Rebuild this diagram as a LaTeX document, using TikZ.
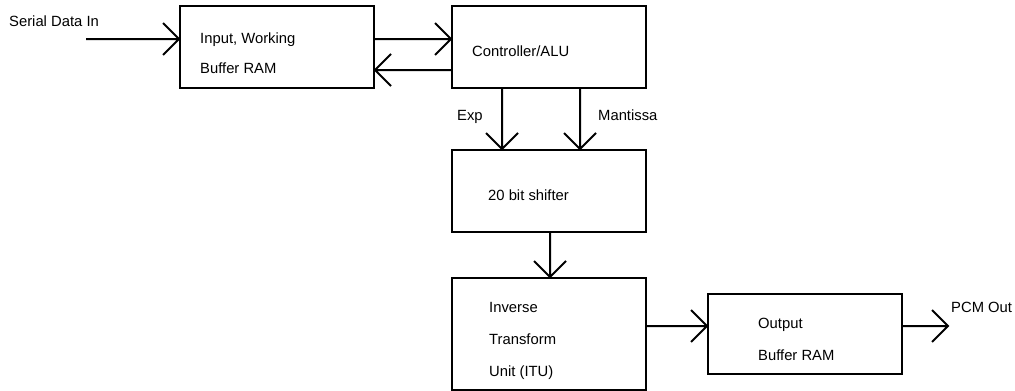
\documentclass[tikz,border=0pt]{standalone}
\usepackage{fontspec}
\setmainfont{Liberation Sans}
\begin{document}
\begin{tikzpicture}[x=1pt,y=-1pt,
  box/.style={draw=black,line width=2pt,rectangle,inner sep=0pt},
  lbl/.style={anchor=base west,inner sep=0pt,font=\fontsize{14.8}{17}\selectfont},
  arrR/.style={line width=2pt,to path={-- (\tikztotarget) ++(-16,-16) -- (\tikztotarget) -- ++(-16,16)}},
  arrL/.style={line width=2pt,to path={-- (\tikztotarget) ++(16,-16) -- (\tikztotarget) -- ++(16,16)}},
  arrD/.style={line width=2pt,to path={-- (\tikztotarget) ++(-16,-16) -- (\tikztotarget) -- ++(16,-16)}}]
\useasboundingbox (0,0) rectangle (1015,391);
% boxes
\node[box,minimum width=194pt,minimum height=82pt] (inbuf) at (277,47) {};
\node[box,minimum width=194pt,minimum height=82pt] (ctrl) at (549,47) {};
\node[box,minimum width=194pt,minimum height=82pt] (shift) at (549,191) {};
\node[box,minimum width=194pt,minimum height=112pt] (itu) at (549,334) {};
\node[box,minimum width=194pt,minimum height=80pt] (outbuf) at (805,334) {};
% free ends
\coordinate (serin) at (86,39);
\coordinate (pcmout) at (948,326);
% texts
\node[lbl] (tserial) at (9,26.5) {Serial Data In};
\node[lbl] (tin1) at (200,43) {Input, Working};
\node[lbl] (tin2) at (200,73) {Buffer RAM};
\node[lbl] (tctrl) at (472,56) {Controller/ALU};
\node[lbl] (texp) at (457,120) {Exp};
\node[lbl] (tman) at (598,120) {Mantissa};
\node[lbl] (tshift) at (488,200) {20 bit shifter};
\node[lbl] (titu1) at (489,312.5) {Inverse};
\node[lbl] (titu2) at (489,344) {Transform};
\node[lbl] (titu3) at (489,376) {Unit (ITU)};
\node[lbl] (tout1) at (758,328) {Output};
\node[lbl] (tout2) at (758,360) {Buffer RAM};
\node[lbl] (tpcm) at (951,312) {PCM Out};
% connectors
\draw[arrR] (serin) to ([yshift=8pt]inbuf.west);
\draw[arrR] ([yshift=8pt]inbuf.east) to ([yshift=8pt]ctrl.west);
\draw[arrL] ([yshift=-23pt]ctrl.west) to ([yshift=-23pt]inbuf.east);
\draw[arrD] ([xshift=-47pt]ctrl.south) to ([xshift=-47pt]shift.north);
\draw[arrD] ([xshift=31pt]ctrl.south) to ([xshift=31pt]shift.north);
\draw[arrD] ([xshift=1pt]shift.south) to ([xshift=1pt]itu.north);
\draw[arrR] ([yshift=8pt]itu.east) to ([yshift=8pt]outbuf.west);
\draw[arrR] ([yshift=8pt]outbuf.east) to (pcmout);
\end{tikzpicture}
\end{document}
